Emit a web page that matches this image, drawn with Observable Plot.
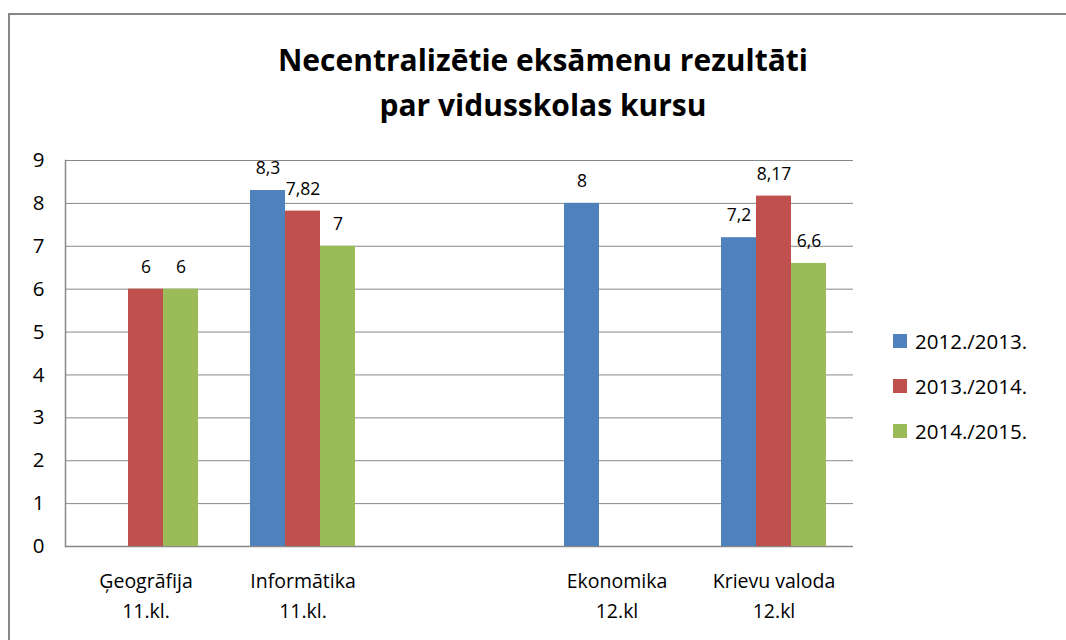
<!DOCTYPE html>
<html>
<head>
<meta charset="utf-8">
<script src="https://cdn.jsdelivr.net/npm/d3@7"></script>
<script src="https://cdn.jsdelivr.net/npm/@observablehq/plot@0.6"></script>
<style>
  html, body { margin: 0; padding: 0; background: #fff; overflow: hidden; }
  #wrap { position: relative; width: 1066px; height: 640px; overflow: hidden; font-family: "Open Sans", sans-serif; }
  #border { position: absolute; left: 8px; top: 13px; width: 1100px; height: 700px; border: 2px solid #868686; box-sizing: border-box; }
  #title { position: absolute; left: 0; width: 1086px; top: 37px; text-align: center; font-weight: bold; font-size: 30px; line-height: 45px; color: #000; }
  #legend { position: absolute; left: 893px; top: 318px; font-size: 20.5px; color: #000; }
  #legend div { display: flex; align-items: center; height: 45px; }
  #legend span.sw { display: inline-block; width: 14px; height: 14px; margin-right: 8px; }
  .layer { position: absolute; left: 0; top: 0; }
</style>
</head>
<body>
<div id="wrap">
  <div id="border"></div>
  <div id="grid" class="layer"></div>
  <div id="chart" class="layer"></div>
  <div id="title">Necentralizētie eksāmenu rezultāti<br>par vidusskolas kursu</div>
  <div id="legend"></div>
</div>
<script>
const categories = ["Ģeogrāfija\n11.kl.", "Informātika\n11.kl.", " ", "Ekonomika\n12.kl", "Krievu valoda\n12.kl"];
const seriesNames = ["2012./2013.", "2013./2014.", "2014./2015."];
const values2012 = [null, 8.3, null, 8, 7.2];
const values2013 = [6, 7.82, null, null, 8.17];
const values2014 = [6, 7, null, null, 6.6];
const colors = ["#4F81BD", "#C0504D", "#9BBB59"];
const yTicks = [0, 1, 2, 3, 4, 5, 6, 7, 8, 9];

const seriesValues = [values2012, values2013, values2014];
const data = [];
categories.forEach((c, i) => {
  seriesNames.forEach((s, j) => {
    const v = seriesValues[j][i];
    if (v != null) data.push({cat: c, series: s, value: v});
  });
});

const fmt = v => String(v).replace(".", ",");

const common = {
  width: 1066,
  height: 640,
  marginLeft: 65,
  marginRight: 213,
  marginTop: 160,
  marginBottom: 94,
  style: {fontFamily: "Open Sans, sans-serif", background: "transparent", overflow: "visible"}
};

// Background layer: gridlines, y axis, axis lines
const grid = Plot.plot({
  ...common,
  y: {domain: [0, 9], ticks: yTicks, label: null},
  marks: [
    Plot.gridY(yTicks, {stroke: "#888", strokeOpacity: 1, strokeWidth: 1}),
    Plot.axisY(yTicks, {tickSize: 0, tickPadding: 21, fontSize: 20.5, fill: "#000", label: null}),
    Plot.ruleY([0], {stroke: "#888", strokeWidth: 1.5}),
    Plot.frame({anchor: "left", stroke: "#888", strokeWidth: 1.5})
  ]
});
document.getElementById("grid").appendChild(grid);

// Bars layer: categories as facets, series within each facet
const chart = Plot.plot({
  ...common,
  fx: {domain: categories, paddingInner: 1/3, paddingOuter: 1/6, label: null},
  x: {domain: seriesNames, padding: 0, axis: null},
  y: {domain: [0, 9], axis: null},
  color: {domain: seriesNames, range: colors},
  marks: [
    Plot.barY(data, {fx: "cat", x: "series", y: "value", fill: "series"}),
    Plot.text(data, {fx: "cat", x: "series", y: "value", text: d => fmt(d.value), dy: -22, fontSize: 17.5, fill: "#000", textAnchor: "middle"}),
    Plot.axisFx({anchor: "bottom", tickSize: 0, tickPadding: 20, fontSize: 19.5, fill: "#000", lineHeight: 1.55, label: null})
  ]
});
document.getElementById("chart").appendChild(chart);

const legend = document.getElementById("legend");
seriesNames.forEach((s, i) => {
  const row = document.createElement("div");
  row.innerHTML = `<span class="sw" style="background:${colors[i]}"></span><span>${s}</span>`;
  legend.appendChild(row);
});
</script>
</body>
</html>
